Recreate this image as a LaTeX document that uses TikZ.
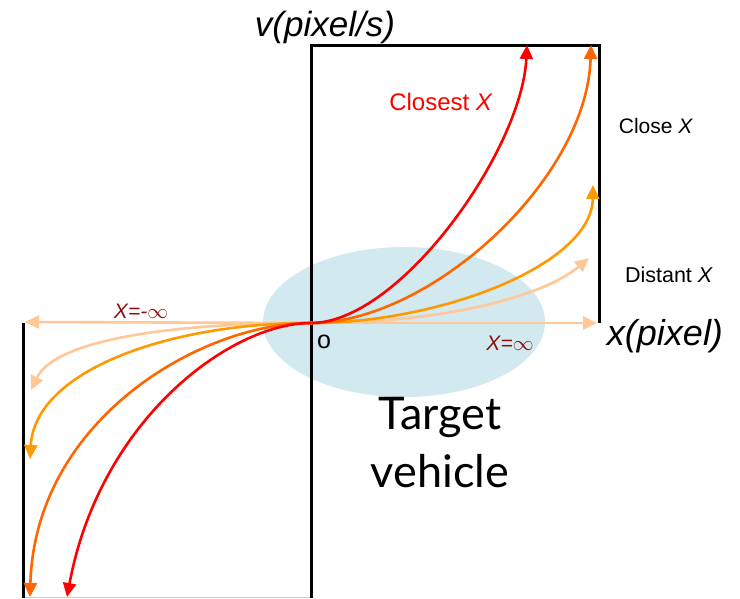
\documentclass[tikz,border=0pt]{standalone}
\usepackage{fontspec}
\setmainfont{Liberation Sans}
\newfontfamily\tvfont{Lato}
\usetikzlibrary{arrows.meta}
\definecolor{cred}{HTML}{FF0000}
\definecolor{cdor}{HTML}{FF6600}
\definecolor{corg}{HTML}{FF9900}
\definecolor{cpch}{HTML}{FFC896}
\definecolor{cblue}{HTML}{D3E9F0}
\definecolor{cxlab}{HTML}{8B1010}
\tikzset{
  axis/.style={line width=3pt, black},
  curve/.style={line width=2.6pt, -{Triangle[length=14pt,width=13pt]}},
  lbl/.style={inner sep=0pt, anchor=base},
}
\begin{document}
\begin{tikzpicture}[x=1pt,y=-1pt]
\useasboundingbox (0,0) rectangle (740,598);
% ellipse
\fill[cblue] (404,322) ellipse [x radius=141, y radius=75];
% named points
\coordinate (O) at (311,323);
\coordinate (rTL) at (311,45);
\coordinate (rTR) at (599,45);
\coordinate (rBR) at (599,323);
\coordinate (lTL) at (23,323);
\coordinate (lBL) at (23,598);
\coordinate (lBR) at (311,598);
% boxes
\draw[gray!40, line width=1pt] (23,597) -- (311,597);
\draw[axis] (O) -- (rTL) -- (rTR) -- (rBR);
\draw[axis] (lBL) -- (lTL);
\draw[axis] (O) -- (lBR);
% horizontal arrows
\coordinate (hR) at (597,323);
\coordinate (hL) at (25,322);
\draw[curve, cpch] (O) -- (hR);
\draw[curve, cpch] (O) -- (hL);
% upper right curves
\coordinate (eR1) at (527,45);
\coordinate (eR2) at (591,45);
\coordinate (eR3) at (593,185);
\coordinate (eR4) at (589,258);
\draw[curve, cpch] (O) .. controls (450,323) and (545,295) .. (eR4);
\draw[curve, corg] (O) .. controls (440,323) and (592,265) .. (eR3);
\draw[curve, cdor] (O) .. controls (430,323) and (587,180) .. (eR2);
\draw[curve, cred] (O) .. controls (400,323) and (522,150) .. (eR1);
% lower left curves
\coordinate (eL1) at (67,597);
\coordinate (eL2) at (30,597);
\coordinate (eL3) at (30,459);
\coordinate (eL4) at (31,390);
\draw[curve, cpch] (O) .. controls (170,323) and (55,340) .. (eL4);
\draw[curve, corg] (O) .. controls (170,323) and (35,370) .. (eL3);
\draw[curve, cdor] (O) .. controls (200,323) and (35,420) .. (eL2);
\draw[curve, cred] (O) .. controls (230,323) and (100,420) .. (eL1);
% labels
\node[lbl, font=\fontsize{35}{38}\selectfont\itshape] (vlab) at (325,36) {v(pixel/s)};
\node[lbl, font=\fontsize{36}{38}\selectfont\itshape] (xlab) at (665,345) {x(pixel)};
\node[lbl, text=cred, font=\fontsize{24}{26}\selectfont] (closest) at (441,110) {Closest \textit{X}};
\node[lbl, font=\fontsize{21}{24}\selectfont] (close) at (656,133) {Close \textit{X}};
\node[lbl, font=\fontsize{21.5}{24}\selectfont] (distant) at (669,282) {Distant \textit{X}};
\node[lbl, text=cxlab, font=\fontsize{21}{24}\selectfont\itshape] (xminf) at (141,318) {X=-$\infty$};
\node[lbl, text=cxlab, font=\fontsize{21}{24}\selectfont\itshape] (xinf) at (510,350) {X=$\infty$};
\node[lbl, font=\fontsize{25}{28}\selectfont] (o) at (324,348) {o};
\node[lbl, font=\fontsize{45}{58}\selectfont\tvfont, align=center] (tv) at (440,487) {Target\\vehicle};
\end{tikzpicture}
\end{document}
